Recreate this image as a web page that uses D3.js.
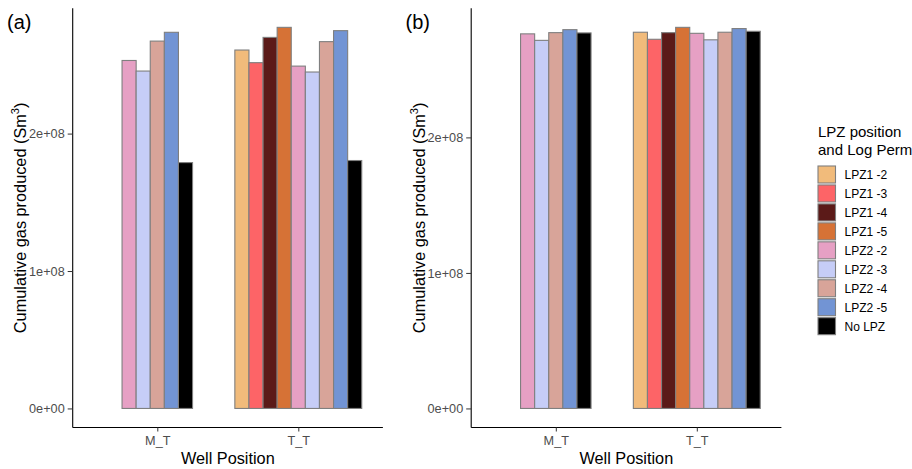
<!DOCTYPE html>
<html>
<head>
<meta charset="utf-8">
<script src="https://cdn.jsdelivr.net/npm/d3@7"></script>
<style>
  html, body { margin: 0; padding: 0; background: #fff; }
  svg { display: block; font-family: "Liberation Sans", Arial, Helvetica, sans-serif; }
</style>
</head>
<body>
<svg id="chart" width="912" height="469"></svg>
<script>
// ---- data ----
const categories = ["M_T", "T_T"];
const seriesNames = ["LPZ1 -2", "LPZ1 -3", "LPZ1 -4", "LPZ1 -5", "LPZ2 -2", "LPZ2 -3", "LPZ2 -4", "LPZ2 -5", "No LPZ"];
const seriesColors = ["#F1BB7B", "#FD6467", "#5B1A18", "#D67236", "#E6A0C4", "#C6CDF7", "#D8A499", "#7294D4", "#000000"];

// panel (a) values per series (null = absent)
const panelA_MT = [null, null, null, null, 2.532e8, 2.455e8, 2.673e8, 2.737e8, 1.789e8];
const panelA_TT = [2.608e8, 2.516e8, 2.700e8, 2.773e8, 2.491e8, 2.448e8, 2.669e8, 2.749e8, 1.804e8];
// panel (b)
const panelB_MT = [null, null, null, null, 2.764e8, 2.716e8, 2.773e8, 2.795e8, 2.771e8];
const panelB_TT = [2.776e8, 2.724e8, 2.773e8, 2.812e8, 2.768e8, 2.720e8, 2.776e8, 2.803e8, 2.783e8];

const yTickValues = [0, 1e8, 2e8];
const yTickLabels = ["0e+00", "1e+08", "2e+08"];

const panelLabels = ["(a)", "(b)"];
const xTitle = "Well Position";
const yTitle = "Cumulative gas produced (Sm";
const legendTitle = ["LPZ position", "and Log Perm"];

const FONT = '"Liberation Sans", Arial, Helvetica, sans-serif';

// ---- drawing ----
const svg = d3.select("#chart");

function drawPanel(offsetX, label, rowsByCat) {
  const left = 72.7, right = 382.9, top = 8.3, bottom = 427.5;
  const g = svg.append("g").attr("transform", `translate(${offsetX},0)`);

  const all = rowsByCat.flat().filter(v => v != null);
  const maxV = d3.max(all);
  const y = d3.scaleLinear().domain([-0.05 * maxV, 1.05 * maxV]).range([bottom, top]);
  const x = d3.scalePoint().domain(categories).range([left, right]).padding(0.6);
  const barW = x.step() * 0.9 / seriesNames.length;

  // bars
  categories.forEach((cat, ci) => {
    const vals = rowsByCat[ci];
    const present = seriesNames.map((s, i) => ({ s, i, v: vals[i] })).filter(d => d.v != null);
    const n = present.length;
    g.selectAll(null)
      .data(present)
      .enter()
      .append("rect")
      .attr("x", (d, k) => x(cat) + (k - n / 2) * barW)
      .attr("width", barW)
      .attr("y", d => y(d.v))
      .attr("height", d => y(0) - y(d.v))
      .attr("fill", d => seriesColors[d.i])
      .attr("stroke", "#7f7f7f")
      .attr("stroke-width", 1.1);
  });

  // y axis
  const yAxis = d3.axisLeft(y).tickValues(yTickValues)
    .tickFormat((d, i) => yTickLabels[i]).tickSizeOuter(0).tickSize(5).tickPadding(3);
  const ya = g.append("g").attr("transform", `translate(${left},0)`).call(yAxis)
    .attr("font-family", FONT).attr("font-size", 12.7);
  ya.select(".domain").attr("d", `M0,${top}V${bottom}`).attr("stroke", "#000").attr("stroke-width", 1.1);
  ya.selectAll(".tick line").attr("stroke", "#333");
  ya.selectAll(".tick text").attr("fill", "#4D4D4D");

  // x axis
  const xAxis = d3.axisBottom(x).tickSizeOuter(0).tickSize(4).tickPadding(4);
  const xa = g.append("g").attr("transform", `translate(0,${bottom})`).call(xAxis)
    .attr("font-family", FONT).attr("font-size", 12.7);
  xa.select(".domain").attr("d", `M${left},0H${right}`).attr("stroke", "#000").attr("stroke-width", 1.1);
  xa.selectAll(".tick line").attr("stroke", "#333");
  xa.selectAll(".tick text").attr("fill", "#4D4D4D");

  // titles
  g.append("text").attr("x", (left + right) / 2).attr("y", 464)
    .attr("text-anchor", "middle").style("font-size", "16.3px").attr("fill", "#000").text(xTitle);

  const yt = g.append("text")
    .attr("transform", `translate(26,${(top + bottom) / 2}) rotate(-90)`)
    .attr("text-anchor", "middle").style("font-size", "16.3px").attr("fill", "#000");
  yt.append("tspan").text(yTitle);
  yt.append("tspan").attr("dy", -7).style("font-size", "11px").text("3");
  yt.append("tspan").attr("dy", 7).text(")");

  g.append("text").attr("x", 7).attr("y", 29).style("font-size", "20px").attr("fill", "#000").text(label);
}

drawPanel(0, panelLabels[0], [panelA_MT, panelA_TT]);
drawPanel(398.5, panelLabels[1], [panelB_MT, panelB_TT]);

// legend
const lg = svg.append("g").attr("transform", "translate(818,0)");
lg.selectAll(null).data(legendTitle).enter().append("text")
  .attr("x", 0).attr("y", (d, i) => 137 + i * 17.5)
  .style("font-size", "15px").attr("fill", "#000").text(d => d);

const items = lg.selectAll(null).data(seriesNames).enter().append("g")
  .attr("transform", (d, i) => `translate(0,${166 + i * 18.96})`);
items.append("rect").attr("x", 0).attr("y", 0).attr("width", 17.5).attr("height", 17)
  .attr("fill", (d, i) => seriesColors[i]).attr("stroke", "#7f7f7f").attr("stroke-width", 1.1);
items.append("text").attr("x", 26.5).attr("y", 13).style("font-size", "12px").attr("fill", "#000").text(d => d);
</script>
</body>
</html>
